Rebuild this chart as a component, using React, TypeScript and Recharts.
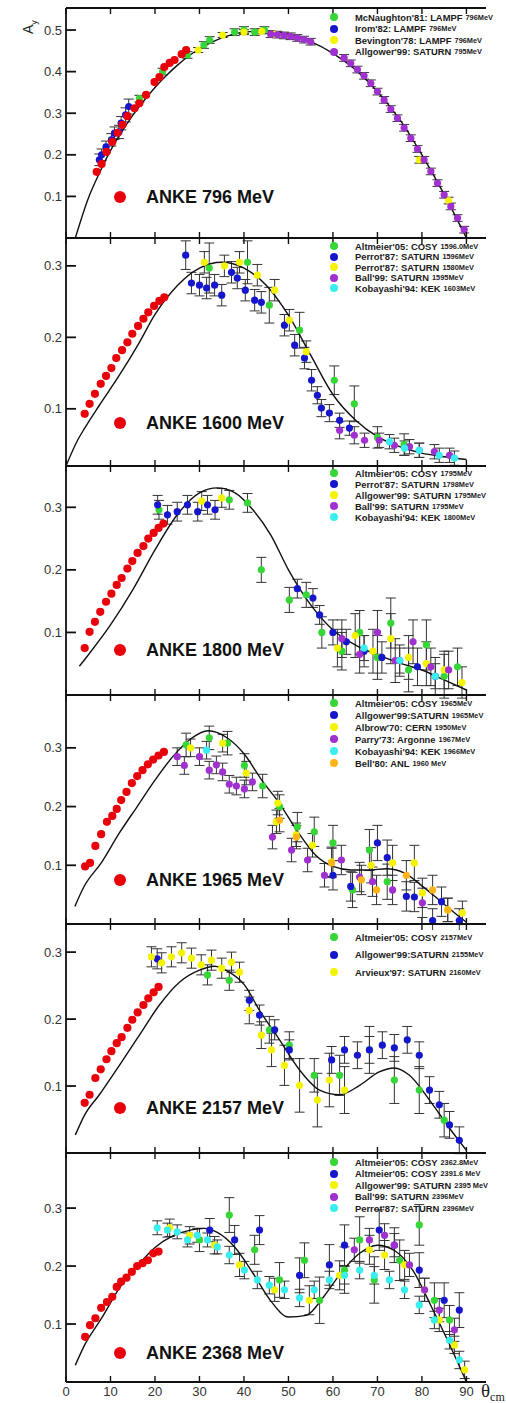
import React from "react";
import {
  ComposedChart,
  Scatter,
  Line,
  XAxis,
  YAxis,
  ErrorBar,
  Legend,
} from "recharts";

// [theta_cm, A_y, error]
type Pt = [number, number, number?];

const FONT = '"Liberation Sans", Arial, Helvetica, sans-serif';
const GREEN = "#36d636";
const BLUE = "#1616cc";
const YELLOW = "#f4f400";
const PURPLE = "#a030d0";
const CYAN = "#38eeee";
const ORANGE = "#ffb416";
const RED = "#e8000b";

const X_MAX = 94.4;
const X_TICKS = [0, 10, 20, 30, 40, 50, 60, 70, 80, 90];

// ---------- 796 MeV ----------
const anke796: Pt[] = [
  [6.9, 0.159], [8.0, 0.178], [9.1, 0.207], [10.4, 0.231], [11.6, 0.253],
  [12.7, 0.272], [13.8, 0.293], [15.4, 0.312], [16.5, 0.324], [18.0, 0.344],
  [19.9, 0.375], [21.0, 0.387], [22.1, 0.411], [23.3, 0.421], [24.4, 0.428],
  [26.0, 0.442], [27.0, 0.452],
];
const mcnaughton796: Pt[] = [
  [16.5, 0.335, 0.008], [21.7, 0.4, 0.008], [27.3, 0.44, 0.008], [31.0, 0.464, 0.008],
  [32.3, 0.476, 0.008], [37.9, 0.495, 0.008], [40.0, 0.5, 0.008], [42.4, 0.495, 0.008],
  [44.6, 0.5, 0.008],
];
const irom796: Pt[] = [
  [7.5, 0.188, 0.014], [8.0, 0.2, 0.014], [9.0, 0.219, 0.014], [10.2, 0.236, 0.015],
  [10.9, 0.252, 0.015], [11.9, 0.255, 0.016], [12.4, 0.276, 0.016], [13.4, 0.296, 0.017],
  [14.1, 0.316, 0.018],
];
const bevington796: Pt[] = [
  [29.7, 0.452, 0.006], [35.2, 0.488, 0.006], [40.0, 0.495, 0.006], [44.0, 0.497, 0.006],
  [47.0, 0.49, 0.006], [79.4, 0.188, 0.008], [86.0, 0.09, 0.008],
];
const allgower795: Pt[] = [
  [46, 0.49, 0.008], [47.5, 0.489, 0.008], [49, 0.487, 0.008], [50.5, 0.485, 0.008],
  [52, 0.481, 0.008], [53.5, 0.477, 0.008], [55, 0.472, 0.008], [62.5, 0.433, 0.008],
  [64, 0.42, 0.008], [65.5, 0.405, 0.008], [67, 0.39, 0.008], [68.5, 0.372, 0.008],
  [70, 0.352, 0.008], [71.5, 0.332, 0.008], [73, 0.31, 0.008], [74.5, 0.288, 0.008],
  [76, 0.265, 0.008], [77.5, 0.24, 0.008], [79, 0.214, 0.008], [80.5, 0.188, 0.008],
  [82, 0.16, 0.008], [83.5, 0.132, 0.008], [85, 0.104, 0.008], [86.5, 0.076, 0.008],
  [88, 0.048, 0.008], [89.5, 0.02, 0.008],
];
const curve796: Pt[] = [
  [2.1, 0], [5, 0.095], [7.5, 0.156], [10, 0.21], [12.5, 0.255], [15, 0.295],
  [17.5, 0.33], [20, 0.362], [22.5, 0.39], [25, 0.415], [27.5, 0.437], [30, 0.455],
  [35, 0.481], [40, 0.495], [45, 0.498], [50, 0.49], [55, 0.472], [60, 0.444],
  [65, 0.405], [70, 0.352], [75, 0.285], [80, 0.2], [85, 0.105], [90, 0],
];

// ---------- 1600 MeV ----------
const anke1600: Pt[] = [
  [4.2, 0.093], [5.3, 0.107], [6.5, 0.121], [7.8, 0.135], [9.0, 0.146], [10.2, 0.157],
  [11.3, 0.171], [12.6, 0.182], [13.8, 0.193], [14.9, 0.205], [16.2, 0.216], [17.4, 0.226],
  [18.5, 0.235], [19.8, 0.244], [21.0, 0.251], [22.1, 0.256],
];
const altmeier1596: Pt[] = [
  [32.2, 0.297, 0.035], [40.8, 0.305, 0.03], [45.7, 0.245, 0.025], [52.5, 0.21, 0.025],
  [60.3, 0.14, 0.02], [64.8, 0.107, 0.025], [70, 0.06, 0.015], [76, 0.05, 0.015],
];
const perrot1596: Pt[] = [
  [26.9, 0.315, 0.02], [28.2, 0.276, 0.015], [30, 0.273, 0.015], [31.6, 0.269, 0.015],
  [33.4, 0.273, 0.015], [35, 0.259, 0.015], [37.2, 0.291, 0.015], [38.5, 0.283, 0.015],
  [40.3, 0.266, 0.015], [42.4, 0.252, 0.015], [43.9, 0.249, 0.015], [49.1, 0.217, 0.015],
  [51.4, 0.189, 0.015], [53.6, 0.171, 0.015], [55.2, 0.14, 0.015], [56.5, 0.119, 0.012],
  [57.4, 0.101, 0.012], [59.2, 0.094, 0.012], [61.5, 0.084, 0.01], [63.7, 0.073, 0.01],
];
const perrot1580: Pt[] = [
  [31.1, 0.305, 0.015], [35.6, 0.3, 0.015], [39, 0.305, 0.015], [43, 0.287, 0.015],
  [46.9, 0.266, 0.015], [50.2, 0.224, 0.015], [54, 0.18, 0.015],
];
const ball1595: Pt[] = [
  [61.5, 0.07, 0.012], [64.8, 0.063, 0.012], [67.1, 0.056, 0.01], [70.4, 0.056, 0.01],
  [73.8, 0.049, 0.01], [77.2, 0.047, 0.01], [79.4, 0.042, 0.01], [82.8, 0.04, 0.01],
  [86.2, 0.035, 0.01],
];
const kobayashi1603: Pt[] = [
  [72.7, 0.054, 0.01], [76.1, 0.045, 0.01], [79.4, 0.042, 0.01], [83.9, 0.035, 0.01],
  [87.3, 0.031, 0.01],
];
const curve1600: Pt[] = [
  [0, 0.02], [2.6, 0.056], [4.2, 0.073], [7.5, 0.105], [12, 0.147], [16.5, 0.193],
  [19.9, 0.231], [25.1, 0.273], [30, 0.297], [35, 0.305], [40, 0.297], [45, 0.273],
  [50, 0.231], [55, 0.175], [60.1, 0.119], [65.1, 0.084], [70, 0.061], [75, 0.047],
  [79.9, 0.038], [85, 0.033], [90, 0.029],
];

// ---------- 1800 MeV ----------
const anke1800: Pt[] = [
  [4.2, 0.075], [5.3, 0.101], [6.5, 0.117], [7.7, 0.133], [9.0, 0.149], [10.2, 0.162],
  [11.4, 0.176], [12.5, 0.187], [13.8, 0.202], [14.9, 0.214], [16.1, 0.227], [17.4, 0.238],
  [18.5, 0.25], [19.7, 0.259], [20.8, 0.267], [21.9, 0.274],
];
const altmeier1795: Pt[] = [
  [20.9, 0.296, 0.015], [36.7, 0.312, 0.015], [40.8, 0.307, 0.015], [43.9, 0.2, 0.02],
  [50.2, 0.152, 0.02], [54, 0.16, 0.02], [57.5, 0.1, 0.025], [62, 0.07, 0.03],
  [66, 0.1, 0.035], [70, 0.06, 0.035], [73, 0.115, 0.04], [77, 0.04, 0.035],
  [81, 0.08, 0.04], [85, 0.03, 0.035], [88, 0.045, 0.03],
];
const perrot1798: Pt[] = [
  [20.6, 0.304, 0.015], [22.8, 0.288, 0.015], [25, 0.293, 0.015], [27.3, 0.304, 0.015],
  [29.6, 0.293, 0.015], [31.8, 0.304, 0.015], [33.5, 0.296, 0.015], [52, 0.17, 0.015],
  [55.5, 0.155, 0.015], [57, 0.128, 0.015], [60, 0.1, 0.02], [63, 0.085, 0.02],
  [67, 0.07, 0.025], [71, 0.06, 0.025], [75, 0.055, 0.025], [79, 0.045, 0.03],
  [83, 0.03, 0.03],
];
const allgower1795: Pt[] = [
  [30.5, 0.31, 0.015], [35, 0.315, 0.015], [61, 0.075, 0.03], [65, 0.095, 0.035],
  [69, 0.07, 0.035], [73, 0.09, 0.04], [77, 0.06, 0.035], [81, 0.05, 0.035],
  [85, 0.04, 0.03], [89, 0.02, 0.025],
];
const ball1795: Pt[] = [
  [62, 0.09, 0.03], [66, 0.065, 0.03], [70, 0.1, 0.035], [74, 0.055, 0.035],
  [78, 0.085, 0.035], [82, 0.045, 0.03], [86, 0.04, 0.03],
];
const kobayashi1800: Pt[] = [[67, 0.075, 0.02], [75, 0.055, 0.02], [83, 0.03, 0.02]];
const curve1800: Pt[] = [
  [3, 0.046], [5, 0.064], [10, 0.112], [15, 0.168], [20, 0.232], [25, 0.288], [30, 0.323],
  [34, 0.331], [38, 0.323], [42, 0.296], [46, 0.256], [50, 0.2], [55, 0.144], [60, 0.104],
  [65, 0.08], [70, 0.064], [75, 0.051], [80, 0.04], [85, 0.024], [90, 0.008],
];

// ---------- 1965 MeV ----------
const anke1965: Pt[] = [
  [4.3, 0.098], [5.4, 0.104], [6.6, 0.133], [7.9, 0.153], [9.2, 0.174], [10.4, 0.184],
  [11.4, 0.196], [12.4, 0.211], [13.6, 0.225], [14.8, 0.24], [16, 0.252], [17.2, 0.262],
  [18.4, 0.272], [19.6, 0.28], [20.8, 0.287], [22, 0.293],
];
const altmeier1965: Pt[] = [
  [27, 0.305, 0.02], [32.2, 0.317, 0.02], [36.3, 0.308, 0.02], [40.1, 0.27, 0.02],
  [44.2, 0.235, 0.02], [48, 0.2, 0.02], [52, 0.165, 0.025], [55.8, 0.157, 0.025],
  [60, 0.138, 0.03], [64.4, 0.058, 0.03], [68.2, 0.126, 0.035], [72.2, 0.072, 0.03],
];
const allgower1965: Pt[] = [
  [60, 0.083, 0.025], [64, 0.064, 0.025], [70, 0.138, 0.03], [72.2, 0.113, 0.03],
  [76.5, 0.047, 0.025], [78.3, 0.046, 0.025], [82.4, 0.006, 0.02], [84.4, 0.038, 0.025],
  [88.4, 0.006, 0.02],
];
const albrow1950: Pt[] = [
  [28, 0.3, 0.015], [35.2, 0.308, 0.015], [40.5, 0.257, 0.02], [47.3, 0.174, 0.02],
  [47.6, 0.206, 0.02], [51.7, 0.152, 0.02], [55.4, 0.134, 0.02], [59.7, 0.106, 0.025],
  [68.6, 0.1, 0.03], [73.4, 0.104, 0.03], [78.3, 0.104, 0.03], [80.1, 0.053, 0.025],
  [85.8, 0.024, 0.02], [89.1, 0.019, 0.02],
];
const parry1967: Pt[] = [
  [25, 0.285, 0.015], [26.6, 0.27, 0.015], [30, 0.285, 0.015], [32.2, 0.262, 0.015],
  [33.8, 0.271, 0.015], [35.2, 0.259, 0.015], [36.7, 0.238, 0.015], [38.3, 0.235, 0.015],
  [40.1, 0.23, 0.015], [41.9, 0.242, 0.015], [46.4, 0.148, 0.02], [50.7, 0.126, 0.02],
  [54.3, 0.109, 0.02], [58.1, 0.083, 0.02], [61.9, 0.109, 0.025], [66, 0.08, 0.025],
  [68.9, 0.072, 0.025], [73.4, 0.058, 0.025], [80.1, 0.036, 0.025],
];
const kobayashi1966: Pt[] = [[31.6, 0.296, 0.015]];
const bell1960: Pt[] = [
  [48, 0.177, 0.02], [51.8, 0.148, 0.02], [59.7, 0.104, 0.025], [66.4, 0.075, 0.025],
  [69.8, 0.058, 0.025], [76.5, 0.083, 0.025], [82.4, 0.058, 0.025], [85.8, 0.024, 0.02],
];
const curve1965: Pt[] = [
  [2, 0.03], [4, 0.063], [8, 0.105], [12, 0.155], [16, 0.2], [20, 0.245], [24, 0.285],
  [28, 0.315], [32, 0.329], [36, 0.318], [40, 0.29], [44, 0.245], [48, 0.205], [52, 0.158],
  [56, 0.118], [60, 0.098], [64, 0.092], [68, 0.092], [72, 0.094], [76, 0.087], [80, 0.065],
  [84, 0.04], [88, 0.015], [90, 0.003],
];

// ---------- 2157 MeV ----------
const anke2157: Pt[] = [
  [4.2, 0.075], [5.3, 0.087], [6.6, 0.112], [7.8, 0.125], [9.1, 0.14], [10.2, 0.152],
  [11.4, 0.164], [12.5, 0.173], [13.8, 0.187], [14.9, 0.199], [16.1, 0.21], [17.4, 0.221],
  [18.5, 0.231], [19.7, 0.24], [20.8, 0.248],
];
const altmeier2157: Pt[] = [
  [31.8, 0.266, 0.015], [36.7, 0.258, 0.015], [45.7, 0.184, 0.02], [50.2, 0.161, 0.02],
  [55.8, 0.116, 0.025], [61.5, 0.116, 0.03], [68.2, 0.154, 0.035], [73.8, 0.109, 0.035],
  [79.4, 0.094, 0.035], [85, 0.049, 0.025],
];
const allgower2155: Pt[] = [
  [20.5, 0.29, 0.015], [41.2, 0.228, 0.015], [43.5, 0.206, 0.015], [46.9, 0.184, 0.015],
  [50.2, 0.154, 0.015], [59.7, 0.139, 0.02], [62.6, 0.154, 0.02], [65.5, 0.146, 0.02],
  [68.2, 0.154, 0.02], [71.1, 0.161, 0.02], [73.8, 0.157, 0.02], [76.7, 0.169, 0.02],
  [79.4, 0.146, 0.02], [81.7, 0.094, 0.02], [83.9, 0.072, 0.02], [86.2, 0.042, 0.02],
  [88.4, 0.019, 0.02],
];
const arvieux2160: Pt[] = [
  [19.2, 0.293, 0.015], [21.5, 0.284, 0.015], [23.7, 0.293, 0.015], [26, 0.299, 0.015],
  [28.2, 0.291, 0.015], [30.4, 0.281, 0.015], [32.7, 0.288, 0.015], [35, 0.276, 0.015],
  [37.2, 0.285, 0.015], [39, 0.27, 0.015], [41.2, 0.213, 0.02], [43.9, 0.176, 0.02],
  [46.2, 0.154, 0.025], [49.1, 0.131, 0.03], [52.5, 0.101, 0.04], [56.5, 0.079, 0.04],
  [59.2, 0.109, 0.04], [62.6, 0.094, 0.035],
];
const curve2157: Pt[] = [
  [2.1, 0.027], [4.2, 0.057], [7.5, 0.087], [12, 0.131], [16.5, 0.176], [21, 0.221],
  [25.5, 0.255], [30, 0.273], [33.4, 0.279], [36.7, 0.27], [40.1, 0.251], [43.5, 0.213],
  [48, 0.169], [52.5, 0.124], [57, 0.094], [61.5, 0.087], [66, 0.101], [70.4, 0.121],
  [73.8, 0.127], [77.2, 0.116], [81.7, 0.079], [86.2, 0.037], [90, 0.004],
];

// ---------- 2368 MeV ----------
const anke2368: Pt[] = [
  [4.3, 0.078], [5.4, 0.098], [6.6, 0.11], [7.9, 0.128], [9.2, 0.138], [10.4, 0.147],
  [11.4, 0.164], [12.4, 0.173], [13.6, 0.18], [14.8, 0.19], [16, 0.2], [17.2, 0.205],
  [18.4, 0.21], [19.6, 0.222], [20.8, 0.225],
];
const altmeier2363: Pt[] = [
  [30, 0.245, 0.02], [36.7, 0.288, 0.03], [42.4, 0.228, 0.025], [48, 0.176, 0.03],
  [53.6, 0.21, 0.03], [57, 0.141, 0.04], [62.6, 0.193, 0.04], [66, 0.245, 0.04],
  [69.3, 0.176, 0.04], [75, 0.21, 0.035], [79.4, 0.271, 0.035], [82.8, 0.141, 0.03],
  [86.2, 0.107, 0.025],
];
const altmeier2392: Pt[] = [
  [32.3, 0.262, 0.02], [37.9, 0.245, 0.025], [43.5, 0.262, 0.025], [52.5, 0.184, 0.03],
  [59.2, 0.202, 0.035], [62.6, 0.236, 0.035], [70.4, 0.262, 0.035], [73.8, 0.236, 0.03],
  [79.4, 0.193, 0.03], [85, 0.141, 0.03], [88.4, 0.124, 0.03],
];
const allgower2395: Pt[] = [
  [23.3, 0.266, 0.015], [27.8, 0.253, 0.015], [33.4, 0.236, 0.015], [39, 0.202, 0.02],
  [46.9, 0.159, 0.02], [54.7, 0.141, 0.025], [61.5, 0.184, 0.025], [68.2, 0.228, 0.025],
  [71.6, 0.219, 0.025], [76.1, 0.202, 0.025], [80.6, 0.159, 0.02], [83.9, 0.107, 0.02],
  [87.3, 0.064, 0.015], [89.6, 0.021, 0.015],
];
const ball2396: Pt[] = [
  [64.8, 0.228, 0.02], [68.2, 0.245, 0.02], [71.6, 0.253, 0.02], [73.8, 0.236, 0.02],
  [77.2, 0.202, 0.02], [80.6, 0.159, 0.02], [83.9, 0.124, 0.02], [87.3, 0.09, 0.02],
];
const perrot2396: Pt[] = [
  [20.5, 0.266, 0.012], [22.8, 0.262, 0.012], [25, 0.259, 0.012], [27.3, 0.245, 0.012],
  [29.5, 0.253, 0.012], [31.8, 0.245, 0.012], [34, 0.233, 0.012], [36.7, 0.219, 0.015],
  [40.1, 0.193, 0.015], [43, 0.176, 0.015], [45.7, 0.167, 0.015], [49.1, 0.159, 0.015],
  [52.5, 0.145, 0.015], [55.8, 0.159, 0.015], [59.2, 0.176, 0.015], [62.6, 0.184, 0.015],
  [66, 0.193, 0.015], [69.3, 0.184, 0.015], [72.7, 0.176, 0.015], [76.1, 0.159, 0.015],
  [79.4, 0.133, 0.015], [82.8, 0.107, 0.015], [86.2, 0.072, 0.015], [88.4, 0.038, 0.015],
];
const curve2368: Pt[] = [
  [2.1, 0.029], [4.2, 0.064], [8, 0.11], [12, 0.162], [16, 0.2], [20, 0.232], [24, 0.252],
  [28, 0.262], [31, 0.265], [34, 0.258], [38, 0.232], [42, 0.188], [46, 0.14], [50, 0.112],
  [54, 0.115], [58, 0.148], [62, 0.19], [66, 0.222], [70, 0.236], [74, 0.226], [78, 0.192],
  [82, 0.132], [86, 0.068], [90, 0],
];

type SeriesDef = { name: string; color: string; data: Pt[] };
type PanelDef = {
  top: number;
  bottom: number;
  yDomain: [number, number];
  yTicks: number[];
  series: SeriesDef[];
  anke: Pt[];
  curve: Pt[];
  label: string;
  labelY: number;
  legendY: number;
  legendStep: number;
};

// legend names: "main text|energy" (energy is drawn smaller)
const PANELS: PanelDef[] = [
  {
    top: 8, bottom: 238, yDomain: [0, 0.553], yTicks: [0.1, 0.2, 0.3, 0.4, 0.5],
    series: [
      { name: "McNaughton'81: LAMPF|796MeV", color: GREEN, data: mcnaughton796 },
      { name: "Irom'82: LAMPF|796MeV", color: BLUE, data: irom796 },
      { name: "Bevington'78: LAMPF|796MeV", color: YELLOW, data: bevington796 },
      { name: "Allgower'99: SATURN|795MeV", color: PURPLE, data: allgower795 },
    ],
    anke: anke796, curve: curve796, label: "ANKE 796 MeV", labelY: 197,
    legendY: 17, legendStep: 11.5,
  },
  {
    top: 238, bottom: 466, yDomain: [0.02, 0.339], yTicks: [0.1, 0.2, 0.3],
    series: [
      { name: "Altmeier'05: COSY|1596.0MeV", color: GREEN, data: altmeier1596 },
      { name: "Perrot'87: SATURN|1596MeV", color: BLUE, data: perrot1596 },
      { name: "Perrot'87: SATURN|1580MeV", color: YELLOW, data: perrot1580 },
      { name: "Ball'99: SATURN|1595MeV", color: PURPLE, data: ball1595 },
      { name: "Kobayashi'94: KEK|1603MeV", color: CYAN, data: kobayashi1603 },
    ],
    anke: anke1600, curve: curve1600, label: "ANKE 1600 MeV", labelY: 423,
    legendY: 246, legendStep: 10.5,
  },
  {
    top: 466, bottom: 695, yDomain: [0, 0.366], yTicks: [0.1, 0.2, 0.3],
    series: [
      { name: "Altmeier'05: COSY|1795MeV", color: GREEN, data: altmeier1795 },
      { name: "Perrot'87: SATURN|1798MeV", color: BLUE, data: perrot1798 },
      { name: "Allgower'99: SATURN|1795MeV", color: YELLOW, data: allgower1795 },
      { name: "Ball'99: SATURN|1795MeV", color: PURPLE, data: ball1795 },
      { name: "Kobayashi'94: KEK|1800MeV", color: CYAN, data: kobayashi1800 },
    ],
    anke: anke1800, curve: curve1800, label: "ANKE 1800 MeV", labelY: 650,
    legendY: 473, legendStep: 11,
  },
  {
    top: 695, bottom: 924, yDomain: [0, 0.39], yTicks: [0.1, 0.2, 0.3],
    series: [
      { name: "Altmeier'05: COSY|1965MeV", color: GREEN, data: altmeier1965 },
      { name: "Allgower'99:SATURN|1965MeV", color: BLUE, data: allgower1965 },
      { name: "Albrow'70: CERN|1950MeV", color: YELLOW, data: albrow1950 },
      { name: "Parry'73: Argonne|1967MeV", color: PURPLE, data: parry1967 },
      { name: "Kobayashi'94: KEK|1966MeV", color: CYAN, data: kobayashi1966 },
      { name: "Bell'80: ANL|1960 MeV", color: ORANGE, data: bell1960 },
    ],
    anke: anke1965, curve: curve1965, label: "ANKE 1965 MeV", labelY: 880,
    legendY: 703, legendStep: 12,
  },
  {
    top: 924, bottom: 1153, yDomain: [0, 0.342], yTicks: [0.1, 0.2, 0.3],
    series: [
      { name: "Altmeier'05: COSY|2157MeV", color: GREEN, data: altmeier2157 },
      { name: "Allgower'99:SATURN|2155MeV", color: BLUE, data: allgower2155 },
      { name: "Arvieux'97: SATURN|2160MeV", color: YELLOW, data: arvieux2160 },
    ],
    anke: anke2157, curve: curve2157, label: "ANKE 2157 MeV", labelY: 1108,
    legendY: 937, legendStep: 17.5,
  },
  {
    top: 1153, bottom: 1382, yDomain: [0, 0.395], yTicks: [0.1, 0.2, 0.3],
    series: [
      { name: "Altmeier'05: COSY|2362.8MeV", color: GREEN, data: altmeier2363 },
      { name: "Altmeier'05: COSY|2391.6 MeV", color: BLUE, data: altmeier2392 },
      { name: "Allgower'99: SATURN|2395 MeV", color: YELLOW, data: allgower2395 },
      { name: "Ball'99: SATURN|2396MeV", color: PURPLE, data: ball2396 },
      { name: "Perrot'87: SATURN|2396MeV", color: CYAN, data: perrot2396 },
    ],
    anke: anke2368, curve: curve2368, label: "ANKE 2368 MeV", labelY: 1353,
    legendY: 1162, legendStep: 11.5,
  },
];

const pts = (d: Pt[]) => d.map(([x, y, e]) => ({ x, y, e: e ?? 0 }));

const dot = (r: number) => (props: any) => (
  <circle cx={props.cx} cy={props.cy} r={r} fill={props.fill} />
);

const yTick = (props: any) => {
  const { x, y, payload } = props;
  return (
    <g>
      <line x1={x} x2={x + 10} y1={y} y2={y} stroke="#111" strokeWidth={1.8} />
      <text x={x - 4} y={y} dy="0.35em" textAnchor="end" fontSize={13} fill="#333" fontFamily={FONT}>
        {Number(payload.value).toFixed(1)}
      </text>
    </g>
  );
};

const xTickBottom = (showLabel: boolean) => (props: any) => {
  const { x, y, payload } = props;
  return (
    <g>
      <line x1={x} x2={x} y1={y} y2={y - 6} stroke="#111" strokeWidth={1.4} />
      {showLabel && (
        <text x={x} y={y + 14} textAnchor="middle" fontSize={13} fill="#333" fontFamily={FONT}>
          {payload.value}
        </text>
      )}
    </g>
  );
};

const xTickTop = (props: any) => {
  const { x, y } = props;
  return <line x1={x} x2={x} y1={y} y2={y + 6} stroke="#111" strokeWidth={1.4} />;
};

function Panel({ p, last }: { p: PanelDef; last: boolean }) {
  const padT = 6;
  const padB = last ? 26 : 6;
  const h = p.bottom - p.top;
  const chartTop = p.top - padT;
  const legTop = p.legendY - p.legendStep / 2 - chartTop;
  const axisLine = { stroke: "#111", strokeWidth: 1.8 };

  const legendContent = () => (
    <div style={{ fontFamily: FONT, color: "#1a1a1a" }}>
      {p.series.map((s) => {
        const [main, energy] = s.name.split("|");
        return (
          <div key={s.name} style={{ height: p.legendStep, display: "flex", alignItems: "center", whiteSpace: "nowrap" }}>
            <span style={{ display: "inline-block", width: 8, height: 8, borderRadius: 4, background: s.color, marginRight: 17 }} />
            <span style={{ fontSize: 9.4, fontWeight: 700 }}>{main}</span>
            <span style={{ fontSize: 7.4, fontWeight: 700, marginLeft: 3 }}>{energy}</span>
          </div>
        );
      })}
    </div>
  );

  return (
    <div style={{ position: "absolute", left: 0, top: chartTop, width: 506, height: h + padT + padB }}>
      <ComposedChart width={506} height={h + padT + padB} margin={{ top: 0, right: 20, bottom: 0, left: 0 }}>
        <XAxis
          xAxisId="b" dataKey="x" type="number" domain={[0, X_MAX]} ticks={X_TICKS} interval={0}
          allowDataOverflow height={padB} tickSize={0} tickMargin={0} tickLine={false}
          axisLine={axisLine} tick={xTickBottom(last)}
        />
        <XAxis
          xAxisId="t" orientation="top" dataKey="x" type="number" domain={[0, X_MAX]} ticks={X_TICKS}
          interval={0} allowDataOverflow height={padT} tickSize={0} tickMargin={0} tickLine={false}
          axisLine={axisLine} tick={xTickTop}
        />
        <YAxis
          yAxisId="l" dataKey="y" type="number" domain={p.yDomain} ticks={p.yTicks} interval={0}
          allowDataOverflow width={66} tickSize={0} tickMargin={0} tickLine={false}
          axisLine={axisLine} tick={yTick}
        />
        <YAxis
          yAxisId="r" orientation="right" type="number" domain={p.yDomain} allowDataOverflow
          width={0} tick={false} tickLine={false} axisLine={axisLine}
        />
        {p.series.map((s) => (
          <Scatter
            key={s.name} name={s.name} data={pts(s.data)} dataKey="y" xAxisId="b" yAxisId="l"
            fill={s.color} shape={dot(3.6)} isAnimationActive={false}
          >
            <ErrorBar dataKey="e" direction="y" width={5} stroke="#333" strokeWidth={1} />
          </Scatter>
        ))}
        <Line
          data={pts(p.curve)} dataKey="y" xAxisId="b" yAxisId="l" type="monotone" dot={false}
          stroke="#111" strokeWidth={1.4} isAnimationActive={false} legendType="none"
        />
        <Scatter
          name="ANKE" data={pts(p.anke)} dataKey="y" xAxisId="b" yAxisId="l" fill={RED}
          shape={dot(4.1)} isAnimationActive={false} legendType="none"
        />
        <Legend
          layout="vertical" align="center" verticalAlign="middle"
          wrapperStyle={{ left: 330, top: legTop, width: 176 }}
          content={legendContent}
        />
      </ComposedChart>
      <div
        style={{
          position: "absolute", left: 114, top: p.labelY - chartTop - 10, height: 20,
          display: "flex", alignItems: "center", whiteSpace: "nowrap", fontFamily: FONT,
        }}
      >
        <span style={{ display: "inline-block", width: 12, height: 12, borderRadius: 6, background: RED }} />
        <span style={{ marginLeft: 20, fontSize: 18, fontWeight: 700, color: "#111" }}>{p.label}</span>
      </div>
    </div>
  );
}

export default function App() {
  return (
    <div
      style={{
        position: "absolute", left: 0, top: 0, width: 506, height: 1403,
        background: "#fff", overflow: "hidden", fontFamily: FONT,
      }}
    >
      {PANELS.map((p, i) => (
        <Panel key={i} p={p} last={i === PANELS.length - 1} />
      ))}
      <svg style={{ position: "absolute", left: 0, top: 0 }} width={60} height={50}>
        <text transform="translate(33,34) rotate(-90)" fontSize={14} fill="#222" fontFamily={FONT}>
          A<tspan fontSize={9} dy={4}>y</tspan>
        </text>
      </svg>
      <svg style={{ position: "absolute", left: 470, top: 1378 }} width={36} height={25}>
        <text x={11} y={19} fontSize={19} fill="#222" fontFamily='"Liberation Serif", serif'>
          θ<tspan fontSize={12} dy={4}>cm</tspan>
        </text>
      </svg>
    </div>
  );
}
